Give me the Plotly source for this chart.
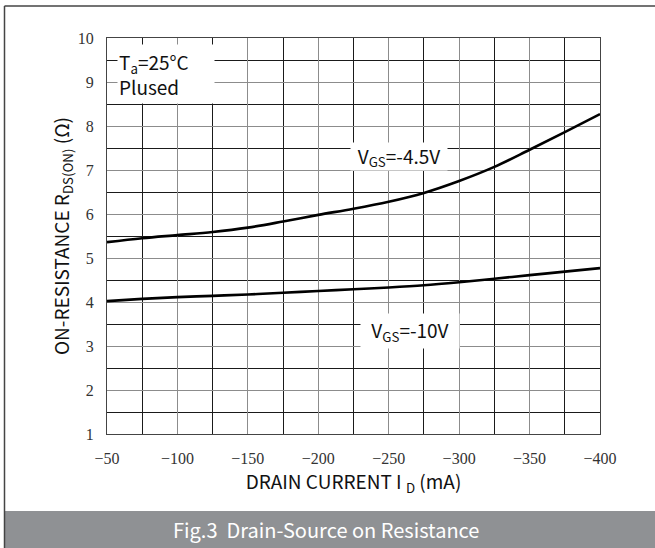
import plotly.graph_objects as go

# Data
drain_current_ma = [-50, -75, -100, -125, -150, -175, -200, -225, -250, -275, -300, -325, -350, -375, -400]
rds_vgs_4_5 = [5.36, 5.45, 5.52, 5.59, 5.69, 5.83, 5.98, 6.12, 6.28, 6.48, 6.75, 7.07, 7.46, 7.86, 8.27]
rds_vgs_10 = [4.02, 4.07, 4.11, 4.14, 4.17, 4.21, 4.25, 4.29, 4.33, 4.38, 4.45, 4.53, 4.61, 4.69, 4.77]
x_ticks = [-50, -100, -150, -200, -250, -300, -350, -400]
y_ticks = [1, 2, 3, 4, 5, 6, 7, 8, 9, 10]

GRAY = "#8c8c8c"
DARK = "#1a1a1a"
SERIF = "Liberation Serif"
SANS = "Noto Sans CJK SC"

fig = go.Figure()
for ys in (rds_vgs_4_5, rds_vgs_10):
    fig.add_trace(go.Scatter(
        x=drain_current_ma, y=ys, mode="lines",
        line=dict(color="black", width=2.6, shape="spline", smoothing=1.0),
        showlegend=False, hoverinfo="skip",
    ))

fig.update_layout(
    width=655, height=548,
    margin=dict(l=107, r=55, t=38, b=114),
    paper_bgcolor="white", plot_bgcolor="white",
    xaxis=dict(
        range=[-50, -400], tickvals=x_ticks,
        ticktext=["\u2212" + str(abs(v)) for v in x_ticks],
        showgrid=True, gridcolor=GRAY, gridwidth=1,
        minor=dict(dtick=25, tick0=-50, showgrid=True, gridcolor=DARK, gridwidth=1, ticks=""),
        showline=True, mirror=True, linecolor="#444", linewidth=1,
        ticks="", zeroline=False, ticklabelstandoff=10,
        tickfont=dict(family=SERIF, size=16, color="#333"),
        title=dict(text="DRAIN CURRENT I <sub>D</sub> (mA)", font=dict(family=SANS, size=19, color="#111"), standoff=7),
    ),
    yaxis=dict(
        range=[1, 10], tickvals=y_ticks,
        showgrid=True, gridcolor=GRAY, gridwidth=1,
        minor=dict(dtick=0.5, tick0=1, showgrid=True, gridcolor=DARK, gridwidth=1, ticks=""),
        showline=True, mirror=True, linecolor="#444", linewidth=1,
        ticks="", zeroline=False, ticklabelstandoff=9,
        tickfont=dict(family=SERIF, size=16, color="#333"),
        title=dict(text="ON-RESISTANCE R<sub>DS(ON)</sub> (\u03a9)", font=dict(family=SANS, size=19, color="#111"), standoff=3),
    ),
)

# Label boxes
fig.add_annotation(x=-92, y=9.18, xref="x", yref="y", showarrow=False,
                   text="T<sub>a</sub>=25\u00b0C<br>Plused", align="left",
                   width=94, height=56, bgcolor="white",
                   font=dict(family=SANS, size=19, color="#111"))
fig.add_annotation(x=-257, y=7.3, xref="x", yref="y", showarrow=False,
                   text="V<sub>GS</sub>=-4.5V", width=94, height=25, bgcolor="white",
                   font=dict(family=SANS, size=19, color="#111"))
fig.add_annotation(x=-265, y=3.34, xref="x", yref="y", showarrow=False,
                   text="V<sub>GS</sub>=-10V", width=96, height=32, bgcolor="white",
                   font=dict(family=SANS, size=19, color="#111"))

# Frame and caption band
W, H = 493.0, 396.0
def px(xp):
    return (xp - 107) / W
def py(yp):
    return (434 - yp) / H

fig.add_shape(type="rect", xref="paper", yref="paper", layer="below",
              x0=px(5), x1=px(656), y0=py(511), y1=py(549),
              fillcolor="#8f9194", line=dict(width=0))
fig.add_shape(type="line", xref="paper", yref="paper",
              x0=px(4.5), x1=px(656), y0=py(6), y1=py(6),
              line=dict(color="#444", width=1.5))
fig.add_shape(type="line", xref="paper", yref="paper",
              x0=px(4.5), x1=px(4.5), y0=py(6), y1=py(549),
              line=dict(color="#444", width=1.5))
fig.add_annotation(x=px(326), y=py(529), xref="paper", yref="paper", showarrow=False,
                   xanchor="center", yanchor="middle",
                   text="Fig.3  Drain-Source on Resistance",
                   font=dict(family=SANS, size=20, color="white"))

fig.write_html("out.html", config={"displayModeBar": False},
               post_script="document.body.style.margin='0';")
